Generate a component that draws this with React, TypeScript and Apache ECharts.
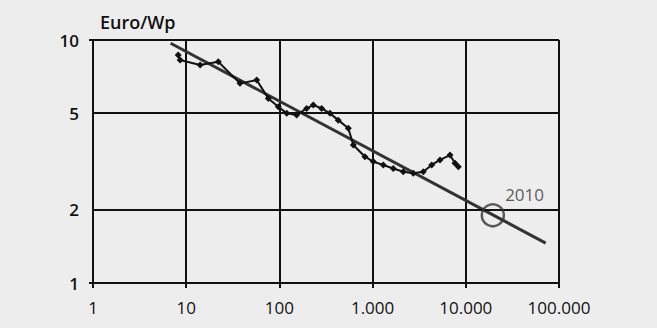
import React, { useEffect, useRef } from "react";
import * as echarts from "echarts";

// Cumulative production (MWp) vs module price (Euro/Wp)
const dataX = [8.2, 8.6, 14.1, 22.1, 37.8, 57.1, 76, 97.3, 120, 153, 196, 231, 284, 349, 428, 549, 621, 828, 1017, 1303, 1667, 2134, 2734, 3500, 4305, 5285, 6768, 7656, 8318];
const dataY = [8.68, 8.28, 7.89, 8.14, 6.63, 6.84, 5.75, 5.31, 4.99, 4.91, 5.23, 5.4, 5.23, 4.99, 4.68, 4.33, 3.7, 3.31, 3.16, 3.06, 2.96, 2.87, 2.83, 2.87, 3.06, 3.21, 3.36, 3.11, 3.01];

// Experience-curve trend line
const trendX = [6.8, 72000];
const trendY = [9.7, 1.46];

// 2010 target point
const targetX = [19500];
const targetY = [1.9];
const targetLabel = "2010";

const xTickValues = [1, 10, 100, 1000, 10000, 100000];
const xTickLabels = ["1", "10", "100", "1.000", "10.000", "100.000"];
const yExtraTicks = [2, 5];
const yAxisName = "Euro/Wp";

const FONT = "Open Sans";
const INK = "#111";

export default function App() {
  const ref = useRef<HTMLDivElement>(null);
  useEffect(() => {
    document.body.style.margin = "0";
    const chart = echarts.init(ref.current!, null, { renderer: "svg" });
    const xLabelFor = (v: number) => {
      const i = xTickValues.findIndex((t) => Math.abs(Math.log10(t) - Math.log10(v)) < 1e-6);
      return i >= 0 ? xTickLabels[i] : "";
    };
    chart.setOption({
      animation: false,
      backgroundColor: "#ededed",
      textStyle: { fontFamily: FONT },
      grid: { left: 93, right: 98, top: 40, bottom: 45 },
      xAxis: {
        type: "log",
        logBase: 10,
        min: 1,
        max: 100000,
        axisLine: { show: true, lineStyle: { color: INK, width: 2 } },
        axisTick: { show: true, length: 5, inside: false, lineStyle: { color: INK, width: 2 } },
        axisLabel: {
          color: INK,
          fontSize: 17,
          fontFamily: FONT,
          margin: 16,
          formatter: (v: number) => xLabelFor(v),
        },
        splitLine: { show: true, showMinLine: false, showMaxLine: true, lineStyle: { color: INK, width: 2 } },
      },
      yAxis: {
        type: "log",
        logBase: 10,
        min: 1,
        max: 10,
        name: yAxisName,
        nameLocation: "end",
        nameGap: 9,
        nameTextStyle: { color: INK, fontSize: 18, fontWeight: 600, fontFamily: FONT, align: "left", padding: [0, 0, 0, 7] },
        axisLine: { show: true, lineStyle: { color: INK, width: 2 } },
        axisTick: { show: true, length: 4, lineStyle: { color: INK, width: 2 } },
        axisLabel: { color: INK, fontSize: 17, fontWeight: 600, fontFamily: FONT, margin: 14 },
        splitLine: { show: true, showMinLine: false, showMaxLine: true, lineStyle: { color: INK, width: 2 } },
      },
      series: [
        {
          type: "line",
          data: trendX.map((x, i) => [x, trendY[i]]),
          showSymbol: false,
          symbol: "none",
          lineStyle: { color: "#333", width: 3 },
          z: 3,
          markLine: {
            silent: true,
            symbol: "none",
            lineStyle: { color: INK, width: 2, type: "solid" },
            label: {
              show: true,
              position: "start",
              distance: 14,
              color: INK,
              fontSize: 17,
              fontWeight: 600,
              fontFamily: FONT,
              formatter: (p: any) => String(p.value),
            },
            data: yExtraTicks.map((v) => ({ yAxis: v })),
          },
        },
        {
          type: "line",
          data: dataX.map((x, i) => [x, dataY[i]]),
          symbol: "diamond",
          symbolSize: 7,
          itemStyle: { color: INK },
          lineStyle: { color: INK, width: 2 },
          z: 4,
        },
        {
          type: "scatter",
          data: targetX.map((x, i) => [x, targetY[i]]),
          symbol: "circle",
          symbolSize: 22,
          itemStyle: { color: "rgba(0,0,0,0)", borderColor: "#333", borderWidth: 2.5 },
          label: {
            show: true,
            formatter: targetLabel,
            position: [44, -9],
            align: "center",
            verticalAlign: "middle",
            color: "#333",
            fontSize: 17,
            fontFamily: FONT,
          },
          z: 5,
        },
      ],
    });
    return () => chart.dispose();
  }, []);
  return <div ref={ref} style={{ width: 657, height: 328 }} />;
}
